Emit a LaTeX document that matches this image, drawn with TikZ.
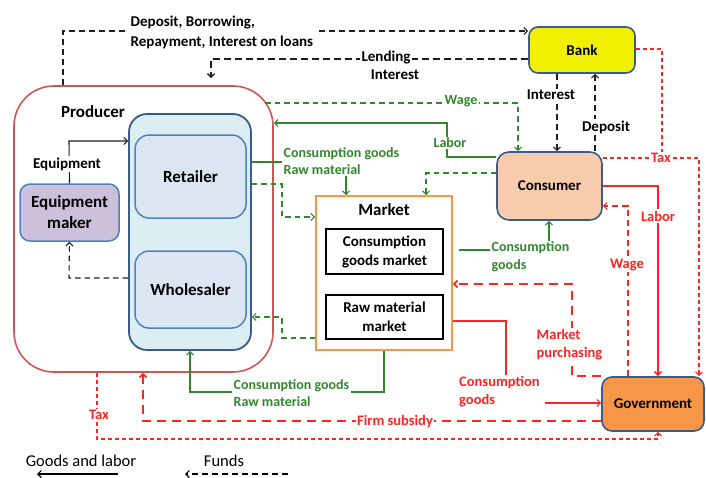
\documentclass[tikz,border=0pt]{standalone}
\usepackage{fontspec}
\setmainfont{Carlito}
\usetikzlibrary{arrows.meta}
\definecolor{gr}{RGB}{50,135,45}
\definecolor{rd}{RGB}{255,35,35}
\definecolor{prodred}{RGB}{205,85,82}
\definecolor{bluedk}{RGB}{56,93,138}
\definecolor{blueone}{RGB}{79,129,189}
\definecolor{ltblue}{RGB}{219,238,244}
\definecolor{boxblue}{RGB}{220,230,242}
\definecolor{purp}{RGB}{204,192,218}
\definecolor{orng}{RGB}{247,150,70}
\definecolor{peach}{RGB}{248,203,173}
\definecolor{yel}{RGB}{240,240,0}
\definecolor{blk}{RGB}{30,30,30}
\tikzset{
  arr/.style={-{Straight Barb[length=3.5pt,width=7pt]}},
  ldash/.style={dash pattern=on 6pt off 4pt},
  gdash/.style={dash pattern=on 5.5pt off 4pt},
  rdash/.style={dash pattern=on 9pt off 6pt},
  wdash/.style={dash pattern=on 6pt off 4pt},
  fdash/.style={dash pattern=on 4pt off 3pt},
  conn/.style={line width=1.1pt},
  inbox/.style={draw=blueone, fill=boxblue, line width=1.5pt, rounded corners=14pt, inner sep=0pt, align=center, font=\bfseries\fontsize{17}{21}\selectfont},
  mbox/.style={draw=black, line width=2pt, inner sep=0pt, align=center, font=\bfseries\fontsize{15}{19}\selectfont},
  agent/.style={draw=bluedk, line width=1.6pt, rounded corners=10pt, inner sep=0pt, align=center, font=\bfseries\fontsize{15}{18}\selectfont},
  lbl/.style={text=black, font=\bfseries\fontsize{15}{20}\selectfont, inner sep=1.5pt},
  glbl/.style={text=gr, font=\bfseries\fontsize{14}{17.5}\selectfont, inner sep=1.5pt},
  rlbl/.style={text=rd, font=\bfseries\fontsize{14.5}{18}\selectfont, inner sep=1.5pt},
}
\begin{document}
\begin{tikzpicture}[x=1pt,y=-1pt]
\useasboundingbox (0,0) rectangle (706,477);

% ---------- boxes ----------
\node[draw=prodred, line width=1.6pt, rounded corners=40pt, minimum width=259pt, minimum height=286pt, inner sep=0pt] (prod) at (143.5,229) {};
\node[font=\bfseries\fontsize{17}{20}\selectfont] (prodl) at (93,112) {Producer};

\node[draw=bluedk, fill=ltblue, line width=1.8pt, rounded corners=18pt, minimum width=122pt, minimum height=236pt, inner sep=0pt] (dist) at (190,232) {};
\node[inbox, minimum width=111pt, minimum height=83pt] (ret) at (190.5,176.5) {Retailer};
\node[inbox, minimum width=111pt, minimum height=77pt] (whole) at (190.5,289.5) {Wholesaler};
\node[inbox, fill=purp, rounded corners=10pt, minimum width=99pt, minimum height=57pt] (eqm) at (69.5,212.5) {Equipment\\maker};

\node[draw=orng, line width=1.8pt, minimum width=136pt, minimum height=154pt, inner sep=0pt] (market) at (384,273) {};
\node[font=\bfseries\fontsize{17}{20}\selectfont] (marketl) at (384,210) {Market};
\node[mbox, minimum width=117pt, minimum height=45pt] (cgm) at (384.5,251.5) {Consumption\\goods market};
\node[mbox, minimum width=117pt, minimum height=44pt] (rmm) at (384.5,317) {Raw material\\market};

\node[agent, fill=yel, rounded corners=9pt, minimum width=106pt, minimum height=46pt] (bank) at (582,50) {Bank};
\node[agent, fill=peach, rounded corners=12pt, minimum width=105pt, minimum height=68pt] (cons) at (549.5,186) {Consumer};
\node[agent, fill=orng, minimum width=102pt, minimum height=54pt] (gov) at (653,404) {Government};

% ---------- black connectors ----------
\draw[blk, conn, ldash, arr] (63,0 |- prod.north) -- (63,31) -- (bank.west |- 0,31);
\node[lbl, fill=white, align=left, anchor=west] (dep) at (129,32) {Deposit, Borrowing,\\Repayment, Interest on loans};

\draw[blk, line width=1.5pt, dash pattern=on 7pt off 4pt, arr, shorten >=7pt] (bank.west |- 0,59) -- (211,59) -- (211,0 |- prod.north);
\node[lbl, fill=white] (lend) at (386,58) {Lending};
\node[lbl] (lendi) at (395,75) {Interest};

\draw[blk, conn, ldash, arr] (557,0 |- bank.south) -- (557,0 |- cons.north);
\node[lbl, fill=white] (intl) at (551,95) {Interest};

\draw[blk, conn, ldash, arr] (595,0 |- cons.north) -- (595,0 |- bank.south);
\node[lbl, fill=white] (depl) at (606,127) {Deposit};

\draw[blk, conn, arr] (eqm.north) -- (69,141) -- (dist.west |- 0,141);
\node[lbl, fill=white] (eql) at (67,164) {Equipment};

\draw[blk, conn, gdash, arr] (dist.west |- 0,278) -- (69,278) -- (eqm.south);

% ---------- green connectors ----------
\coordinate (wageS) at (265,103);
\draw[gr, conn, gdash, arr] (wageS) -- (518,103) -- (518,0 |- cons.north);
\node[glbl, fill=white] (wagel) at (461,101) {Wage};

\draw[gr, conn, arr] (cons.west |- 0,157) -- (447,157) -- (447,123) -- (prod.east |- 0,123);
\node[glbl, fill=white] (laborl) at (450,143) {Labor};

\draw[gr, conn, arr] (dist.east |- 0,162) -- (346,162) -- (346,0 |- market.north);
\node[glbl, fill=white, align=left, anchor=west] (cgrm1) at (282,161) {Consumption goods\\Raw material};

\draw[gr, conn, gdash, arr] (dist.east |- 0,184) -- (282,184) -- (282,217) -- (market.west |- 0,217);
\draw[gr, conn, gdash, arr] (cons.west |- 0,173) -- (426,173) -- (426,0 |- market.north);
\draw[gr, conn, gdash, arr] (market.west |- 0,338) -- (282,338) -- (282,317) -- (dist.east |- 0,317);

\draw[gr, conn, arr, shorten <=6pt] (market.east |- 0,250) -- (549,250) -- (549,0 |- cons.south);
\node[glbl, fill=white, align=left, anchor=west] (cgl) at (490,257) {Consumption\\goods};

\draw[gr, conn, arr] (384,0 |- market.south) -- (384,392) -- (190,392) -- (190,0 |- dist.south);
\node[glbl, fill=white, align=left, anchor=west] (cgrm2) at (232,393) {Consumption goods\\Raw material};

% ---------- red connectors ----------
\draw[rd, line width=1.7pt, rdash, arr] (gov.north west) -- (572,0 |- gov.north) -- (572,284) -- (market.east |- 0,284);
\node[rlbl, fill=white, align=left, anchor=west] (mpl) at (535,345) {Market\\purchasing};

\draw[rd, conn, arr] (market.east |- 0,321) -- (506,321) -- (506,403) -- (gov.west |- 0,403);
\node[rlbl, fill=white, align=left, anchor=west, inner xsep=5pt] (rcgl) at (454,392) {Consumption\\goods};

\draw[rd, line width=1.7pt, rdash, arr] (gov.west |- 0,421) -- (143,421) -- (143,0 |- prod.south);
\node[rlbl, fill=white] (fsl) at (395,422) {Firm subsidy};

\draw[rd, conn, fdash, arr] (97,0 |- prod.south) -- (97,439) -- (658,439) -- (658,0 |- gov.south);
\node[rlbl, fill=white] (taxp) at (99,415) {Tax};

\draw[rd, line width=1.6pt, arr] (cons.east |- 0,186) -- (658,186) -- (658,0 |- gov.north);
\node[rlbl, fill=white] (rlabl) at (658,216) {Labor};

\draw[rd, conn, wdash, arr] (628,0 |- gov.north) -- (628,206) -- (cons.east |- 0,206);
\node[rlbl, fill=white] (rwagel) at (627,265) {Wage};

\draw[rd, conn, fdash, arr] (cons.east |- 0,158) -- (699,158) -- (699,0 |- gov.north);
\node[rlbl, fill=white] (taxc) at (661,158) {Tax};

\draw[rd, conn, fdash] (bank.east |- 0,49) -- (662,49) -- (662,0 |- taxc.north);

% ---------- legend ----------
\node[font=\fontsize{16.5}{19}\selectfont] (lg1) at (81,461) {Goods and labor};
\coordinate (lg1a) at (118,474);
\coordinate (lg1b) at (37,474);
\draw[black, conn, arr] (lg1a) -- (lg1b);
\node[font=\fontsize{16.5}{19}\selectfont] (lg2) at (224,461) {Funds};
\coordinate (lg2a) at (288,474);
\coordinate (lg2b) at (185,474);
\draw[black, conn, ldash, arr] (lg2a) -- (lg2b);
\end{tikzpicture}
\end{document}
